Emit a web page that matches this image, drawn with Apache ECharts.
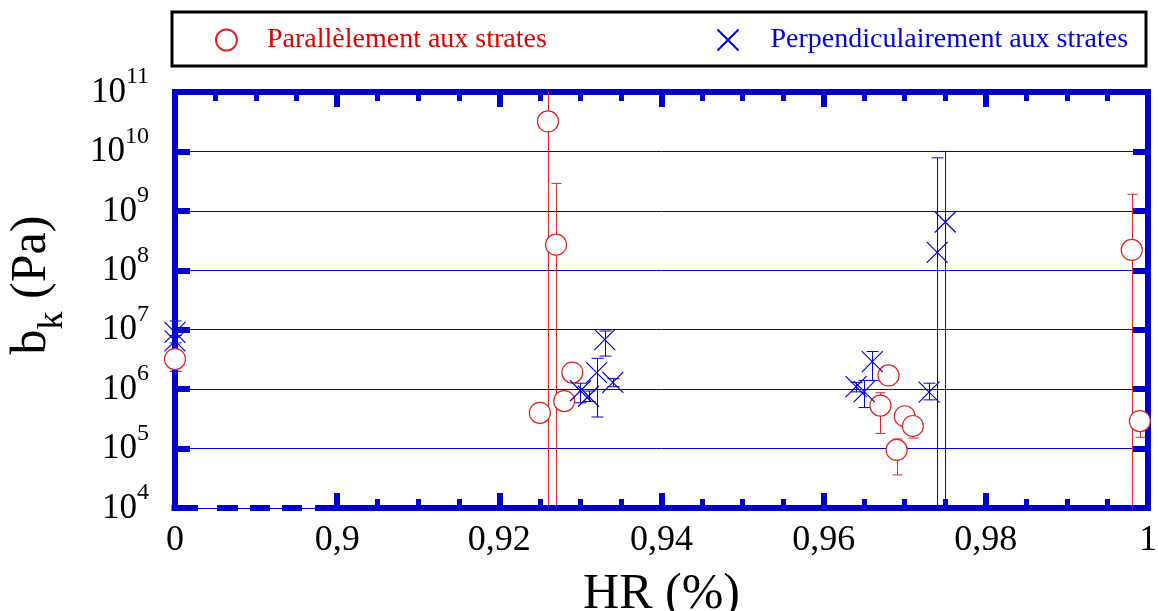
<!DOCTYPE html>
<html>
<head>
<meta charset="utf-8">
<title>b_k vs HR</title>
<script src="https://cdn.jsdelivr.net/npm/echarts@6/dist/echarts.min.js"></script>
<style>
  html, body { margin: 0; padding: 0; background: #fff; }
  #chart { width: 1158px; height: 611px; }
</style>
</head>
<body>
<div id="chart"></div>
<script>
// --- data (HR = 0 is drawn at the axis break, left edge) ---
var redName = 'Parallèlement aux strates';
var redHR   = [0, 0.926, 0.927, 0.929, 0.928, 0.925, 0.968, 0.967, 0.970, 0.971, 0.969, 0.998, 0.999];
var redB    = [3.2e6, 3.2e10, 2.7e8, 1.9e6, 6.3e5, 4.0e5, 1.7e6, 5.3e5, 3.5e5, 2.4e5, 9.5e4, 2.2e8, 2.9e5];
var redLow  = [2.6e6, 1e3, 1e3, 1.6e6, 5.5e5, 3.5e5, 1.5e6, 1.8e5, 3.0e5, 1.5e5, 3.6e4, 1e3, 1.55e5];
var redHigh = [4.0e6, 1e12, 2.9e9, 2.2e6, 7.0e5, 4.5e5, 1.9e6, 8.7e5, 4.0e5, 3.0e5, 1.45e5, 1.9e9, 3.5e5];

var blueName = 'Perpendiculairement aux strates';
var blueHR   = [0, 0, 0.933, 0.932, 0.934, 0.930, 0.931, 0.975, 0.974, 0.966, 0.964, 0.965, 0.973];
var blueB    = [9.0e6, 6.5e6, 6.8e6, 1.9e6, 1.3e6, 9.4e5, 7.6e5, 6.5e8, 2.0e8, 2.9e6, 1.1e6, 9.1e5, 8.9e5];
var blueLow  = [6.0e6, 2.0e6, 3.6e6, 3.4e5, 1.1e6, 5.9e5, 6.2e5, 1e3, 1e3, 1.4e6, 9.0e5, 4.9e5, 6.6e5];
var blueHigh = [1.4e7, 8.0e6, 9.5e6, 3.3e6, 1.5e6, 1.26e6, 9.3e5, 1e10, 7.8e9, 4.3e6, 1.3e6, 1.4e6, 1.26e6];

// axis ticks
var xBreak = 0.88;   // where HR = 0 sits
var xTickValues = [0.88, 0.9, 0.92, 0.94, 0.96, 0.98, 1];
var xTickLabels = ['0', '0,9', '0,92', '0,94', '0,96', '0,98', '1'];
var xMinorTicks = [0.905, 0.91, 0.915, 0.925, 0.93, 0.935, 0.945, 0.95, 0.955,
                   0.965, 0.97, 0.975, 0.985, 0.99, 0.995];
var yExponents = [4, 5, 6, 7, 8, 9, 10, 11];

var RED = '#e02424';
var BLUE = '#0000dd';
var FRAME = '#0000cc';
var FONT = '"Liberation Serif", "DejaVu Serif", serif';

var G = { left: 175, top: 92, width: 973, height: 416 };

function toPoints(hr, b, lo, hi) {
  return hr.map(function (h, i) {
    return [h === 0 ? xBreak : h, b[i], lo[i], hi[i]];
  });
}

// vertical error bar with caps, clamped to the plot area
function errorBar(capHalf, color) {
  return function (params, api) {
    var cs = params.coordSys;
    var x = api.value(0);
    var top = api.coord([x, api.value(3)]);
    var bot = api.coord([x, api.value(2)]);
    var y0 = Math.max(top[1], cs.y), y1 = Math.min(bot[1], cs.y + cs.height);
    var px = Math.round(top[0]) + 0.5;
    var st = { stroke: color, lineWidth: 1, fill: null };
    var kids = [{ type: 'line', shape: { x1: px, y1: y0, x2: px, y2: y1 }, style: st }];
    if (top[1] >= cs.y) {
      kids.push({ type: 'line', shape: { x1: px - capHalf, y1: top[1], x2: px + capHalf, y2: top[1] }, style: st });
    }
    if (bot[1] <= cs.y + cs.height) {
      kids.push({ type: 'line', shape: { x1: px - capHalf, y1: bot[1], x2: px + capHalf, y2: bot[1] }, style: st });
    }
    return { type: 'group', children: kids };
  };
}

var redData = toPoints(redHR, redB, redLow, redHigh);
var blueData = toPoints(blueHR, blueB, blueLow, blueHigh);

var chart = echarts.init(document.getElementById('chart'));

var tickStyle = { color: FRAME, width: 6 };
var minorStyle = { color: FRAME, width: 5 };
var lineStyle6 = { color: FRAME, width: 6, cap: 'square' };

// bottom axis line with the break (dashed part)
var yb = G.top + G.height;
var bottomSegs = [[171.5, 198], [217, 238], [250, 270], [282, 302], [315, G.left + G.width + 3]];

var option = {
  animation: false,
  backgroundColor: '#fff',
  grid: { left: G.left, top: G.top, width: G.width, height: G.height, outerBoundsMode: 'none', containLabel: false },
  legend: [
    { left: 210, top: 21, itemWidth: 21, itemHeight: 21, data: [redName],
      textStyle: { color: '#e00000', fontFamily: FONT, fontSize: 28, padding: [0, 0, 0, 25] } },
    { left: 710, top: 21, itemWidth: 21, itemHeight: 21, data: [blueName],
      textStyle: { color: '#0000e0', fontFamily: FONT, fontSize: 28, padding: [0, 0, 0, 27] } }
  ],
  xAxis: [
    { type: 'value', position: 'bottom', min: 0.88, max: 1,
      name: 'HR (%)', nameLocation: 'middle', nameGap: 62,
      nameTextStyle: { fontFamily: FONT, fontSize: 50, color: '#000' },
      axisLine: { show: false },
      axisTick: { inside: true, length: 15, lineStyle: tickStyle,
                  customValues: xTickValues.slice(1) },
      axisLabel: { customValues: xTickValues, margin: 15, fontFamily: FONT, fontSize: 36, color: '#000',
                   formatter: function (v) {
                     for (var i = 0; i < xTickValues.length; i++) {
                       if (Math.abs(v - xTickValues[i]) < 1e-6) return xTickLabels[i];
                     }
                     return '';
                   } },
      splitLine: { show: false } },
    { type: 'value', position: 'bottom', min: 0.88, max: 1,
      axisLine: { show: false }, axisLabel: { show: false },
      axisTick: { inside: true, length: 9, lineStyle: minorStyle, customValues: xMinorTicks },
      splitLine: { show: false } },
    { type: 'value', position: 'top', min: 0.88, max: 1, interval: 0.02,
      axisLine: { show: true, lineStyle: lineStyle6 },
      axisLabel: { show: false },
      axisTick: { inside: true, length: 15, lineStyle: tickStyle },
      minorTick: { show: true, splitNumber: 4, length: 9, lineStyle: minorStyle },
      splitLine: { show: false } }
  ],
  yAxis: [
    { type: 'log', logBase: 10, min: 1e4, max: 1e11, interval: 1, position: 'left',
      axisLine: { show: true, lineStyle: lineStyle6 },
      axisTick: { inside: true, length: 15, lineStyle: tickStyle },
      splitLine: { show: true, lineStyle: { color: BLUE, width: 1 } },
      axisLabel: { margin: 26, color: '#000', padding: [0, 0, 20, 0],
                   formatter: function (v) {
                     var e = Math.round(Math.log10(v));
                     return yExponents.indexOf(e) >= 0 ? '{b|10}{s|' + e + '}' : '';
                   },
                   rich: {
                     b: { fontFamily: FONT, fontSize: 35, lineHeight: 34, padding: [10, 0, 0, 0], verticalAlign: 'top' },
                     s: { fontFamily: FONT, fontSize: 24, lineHeight: 24, verticalAlign: 'top' }
                   } } },
    { type: 'log', logBase: 10, min: 1e4, max: 1e11, interval: 1, position: 'right',
      axisLine: { show: true, lineStyle: lineStyle6 },
      axisTick: { inside: true, length: 15, lineStyle: tickStyle },
      axisLabel: { show: false },
      splitLine: { show: false } }
  ],
  graphic: [
    { type: 'rect', shape: { x: 172, y: 12, width: 974, height: 54 },
      style: { fill: 'none', stroke: '#000', lineWidth: 3 }, z: 10 },
    { type: 'text', x: 32, y: 285, rotation: Math.PI / 2,
      style: { text: '{b|b}{k|k}{b| (Pa)}', align: 'center', verticalAlign: 'middle',
               rich: {
                 b: { fontFamily: FONT, fontSize: 50, lineHeight: 50, verticalAlign: 'top', fill: '#000' },
                 k: { fontFamily: FONT, fontSize: 36, lineHeight: 36, padding: [28, 0, 0, 0], verticalAlign: 'top', fill: '#000' }
               } } }
  ].concat(bottomSegs.map(function (s) {
    return { type: 'line', shape: { x1: s[0], y1: yb, x2: s[1], y2: yb },
             style: { stroke: FRAME, lineWidth: 6 }, z: 10 };
  })),
  series: [
    { type: 'custom', name: 'errRed', xAxisIndex: 0, yAxisIndex: 0, z: 2,
      renderItem: errorBar(5, RED), data: redData, clip: false, silent: true },
    { type: 'custom', name: 'errBlue', xAxisIndex: 0, yAxisIndex: 0, z: 2,
      renderItem: errorBar(6, BLUE), data: blueData, clip: false, silent: true },
    { type: 'scatter', name: redName, xAxisIndex: 0, yAxisIndex: 0, z: 3,
      symbol: 'circle', symbolSize: 21, clip: false,
      itemStyle: { color: '#fff', borderColor: RED, borderWidth: 1.2, opacity: 1 },
      data: redData.map(function (d) { return [d[0], d[1]]; }) },
    { type: 'scatter', name: blueName, xAxisIndex: 0, yAxisIndex: 0, z: 4,
      symbol: 'path://M0,0L20,20M20,0L0,20', symbolSize: 21, clip: false,
      itemStyle: { color: 'none', borderColor: BLUE, borderWidth: 1.2, opacity: 1 },
      data: blueData.map(function (d) { return [d[0], d[1]]; }) }
  ]
};

chart.setOption(option);
</script>
</body>
</html>
